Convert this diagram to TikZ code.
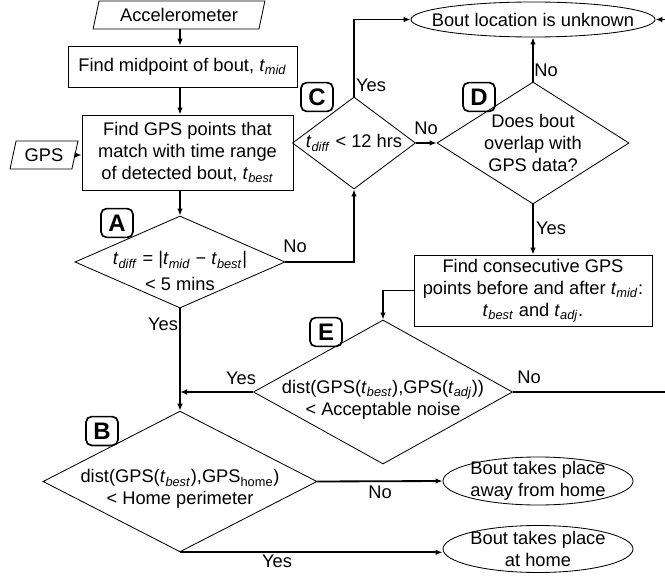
\documentclass[tikz,border=0pt]{standalone}
\usepackage{fontspec}
\setmainfont{Liberation Sans}
\usepackage{tikz}
\usetikzlibrary{arrows.meta,positioning,shapes.geometric}
\newcommand{\tsub}[1]{\textit{t}\textsubscript{\textit{#1}}}

\begin{document}
\begin{tikzpicture}[x=0.025cm,y=-0.025cm,>={Latex[length=5pt,width=4pt]},font=\fontsize{13}{15.6}\selectfont]
\tikzstyle{box}=[rectangle,draw,line width=0.6pt,align=center,inner sep=0pt]
\tikzstyle{dec}=[diamond,draw,line width=0.6pt,align=center,inner sep=-20pt]
\tikzstyle{declow}=[dec,text height=36pt]
\tikzstyle{io}=[trapezium,trapezium left angle=72,trapezium right angle=108,trapezium stretches=true,draw,line width=0.6pt,inner sep=0pt]
\tikzstyle{term}=[ellipse,draw,line width=0.6pt,align=center,inner sep=-12pt]
\tikzstyle{tag}=[draw,rounded corners=4pt,line width=1.2pt,minimum width=0.8cm,minimum height=0.72cm,inner sep=0pt,font=\fontsize{17}{17}\selectfont\bfseries]
\tikzstyle{lbl}=[inner sep=0pt]
\tikzstyle{flow}=[->,line width=1.3pt]
\tikzstyle{thinflow}=[->,line width=0.8pt]
\useasboundingbox (0,0) rectangle (665,578);
% left column
\node[io,minimum width=4.3cm,minimum height=0.7cm] (acc) at (179,15) {Accelerometer};
\node[box,minimum width=5.725cm,minimum height=1.025cm] (mid) at (182.5,66.5) {Find midpoint of bout, \tsub{mid}};
\node[box,minimum width=5.275cm,minimum height=1.875cm] (best) at (187.5,152.5) {Find GPS points that\\match with time range\\of detected bout, \tsub{best}};
\node[io,minimum width=1.7cm,minimum height=0.7cm] (gps) at (44,155) {GPS};
\node[declow,text height=41pt,minimum width=5.25cm,minimum height=2.3cm] (A) at (180,262) {\tsub{diff} = |\tsub{mid} − \tsub{best}|\\[3pt]< 5 mins};
\node[declow,minimum width=6.85cm,minimum height=3.275cm] (B) at (180,481.5) {dist(GPS(\tsub{best}),GPS\textsubscript{home})\\< Home perimeter};
% right part
\node[dec,minimum width=3.075cm,minimum height=2.3cm] (C) at (354,143) {\tsub{diff} < 12 hrs};
\node[dec,minimum width=4.8cm,minimum height=3.05cm] (D) at (533,143) {Does bout\\overlap with\\GPS data?};
\node[term,minimum width=6.1cm,minimum height=0.875cm] (unk) at (533,19.5) {Bout location is unknown};
\node[box,minimum width=5.95cm,minimum height=1.775cm] (cons) at (533,290.5) {Find consecutive GPS\\points before and after \tsub{mid}:\\\tsub{best} and \tsub{adj}.};
\node[declow,minimum width=6.475cm,minimum height=3.3cm] (E) at (383,392) {dist(GPS(\tsub{best}),GPS(\tsub{adj}))\\< Acceptable noise};
\node[term,minimum width=4.75cm,minimum height=1.2cm] (away) at (538,481) {Bout takes place\\away from home};
\node[term,minimum width=4.75cm,minimum height=1.175cm] (home) at (538,549) {Bout takes place\\at home};
% letter tags
\node[tag] (tA) at (117,223) {A};
\node[tag] (tB) at (102,431) {B};
\node[tag] (tC) at (317,97) {C};
\node[tag] (tD) at (479,97) {D};
\node[tag] (tE) at (326,332) {E};
\coordinate (join) at (180,392);
\coordinate (edge) at (690,392);
% connectors
\draw[thinflow] (acc.south -| A.north) -- (mid.north -| A.north);
\draw[flow] (mid.south -| A.north) -- (best.north -| A.north);
\draw[thinflow] (gps.east) -- (gps.east -| best.west);
\draw[flow] (best.south -| A.north) -- (A.north);
\draw[flow] (A.east) -| (C.south);
\draw[flow] (C.north) |- (unk.west);
\draw[flow] (C.east) -- (D.west);
\draw[flow] (D.north) -- (unk.south);
\draw[flow] (D.south) -- (cons.north);
\draw[flow] (cons.west) -| (E.north);
\draw[flow] (E.east) -- (edge) |- (unk.east);
\draw[flow] (E.west) -- (join);
\draw[flow] (A.south) -- (B.north);
\draw[flow] (B.east) -- (away.west);
\draw[flow] (B.south) -- (B.south -| home.west);
% yes / no
\node[lbl] (noA) at (295,246) {No};
\node[lbl] (yesA) at (163,324) {Yes};
\node[lbl] (yesC) at (371,85) {Yes};
\node[lbl] (noC) at (426,128) {No};
\node[lbl] (noD) at (546,70) {No};
\node[lbl] (yesD) at (551,228) {Yes};
\node[lbl] (yesE) at (241,378) {Yes};
\node[lbl] (noE) at (529,377) {No};
\node[lbl] (noB) at (380,492) {No};
\node[lbl] (yesB) at (277,561) {Yes};
\end{tikzpicture}
\end{document}
